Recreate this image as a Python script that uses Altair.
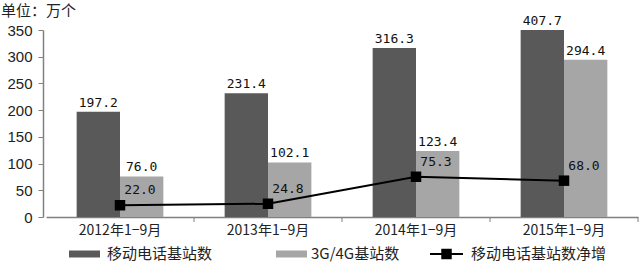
import altair as alt
import pandas as pd

periods = ["2012年1−9月", "2013年1−9月", "2014年1−9月", "2015年1−9月"]
mobile_stations = [197.2, 231.4, 316.3, 407.7]
g34_stations = [76.0, 102.1, 123.4, 294.4]
net_increase = [22.0, 24.8, 75.3, 68.0]
series_names = ["移动电话基站数", "3G/4G基站数", "移动电话基站数净增"]
unit_label = "单位：万个"
y_ticks = [0, 50, 100, 150, 200, 250, 300, 350]

bars_df = pd.DataFrame({
    "period": periods * 2,
    "series": [series_names[0]] * 4 + [series_names[1]] * 4,
    "value": mobile_stations + g34_stations,
})
line_df = pd.DataFrame({"period": periods, "value": net_increase})
one = pd.DataFrame({"k": [0]})

W, H = 594, 187
CJK = "Noto Sans CJK SC"
NUM = "DejaVu Sans Mono"
AX = "#808080"

xscale = alt.Scale(paddingInner=0, paddingOuter=0, range=[3, 595])
xaxis = alt.Axis(title=None, labelAngle=0, ticks=False, domainColor=AX, domainWidth=1.5,
                 labelFont=CJK, labelFontSize=14, labelColor="#222", labelPadding=6)
yscale = alt.Scale(domain=[0, 350], nice=False)
yaxis = alt.Axis(title=None, values=y_ticks, grid=False, tickSize=5, tickColor=AX,
                 domainColor=AX, domainWidth=1.5, labelFont="Liberation Sans",
                 labelFontSize=15, labelColor="#222", labelPadding=6)

X = alt.X("period:N", sort=periods, scale=xscale, axis=xaxis)
Y = alt.Y("value:Q", scale=yscale, axis=yaxis)
XO = alt.XOffset("series:N", sort=series_names[:2],
                 scale=alt.Scale(paddingOuter=0.707, paddingInner=0))
colors = alt.Scale(domain=series_names[:2], range=["#595959", "#a6a6a6"])

bars = alt.Chart(bars_df).mark_bar(clip=True).encode(
    x=X, y=Y, xOffset=XO,
    color=alt.Color("series:N", scale=colors, legend=None),
)

bar_labels = alt.Chart(bars_df).transform_calculate(
    ly="min(datum.value, 350)"
).mark_text(font=NUM, fontSize=13, color="#111", baseline="middle", dy=-9).encode(
    x=X, xOffset=XO,
    y=alt.Y("ly:Q", scale=yscale, axis=yaxis),
    text=alt.Text("value:Q", format=".1f"),
)

xticks = alt.Chart(line_df).mark_rule(color=AX, strokeWidth=1).encode(
    x=alt.X("period:N", sort=periods, scale=xscale, axis=xaxis, bandPosition=1),
    y=alt.value(H), y2=alt.value(H + 5),
)

line = alt.Chart(line_df).mark_line(color="black", strokeWidth=2).encode(x=X, y=Y)
pts = alt.Chart(line_df).mark_point(shape="square", filled=True, size=110,
                                    color="black", opacity=1).encode(x=X, y=Y)
line_labels = alt.Chart(line_df).mark_text(font=NUM, fontSize=13, color="#111",
                                           dx=20, dy=-15).encode(
    x=X, y=Y, text=alt.Text("value:Q", format=".1f"))

title = alt.Chart(one).mark_text(font=CJK, fontSize=15, color="#222", align="left",
                                 baseline="middle").encode(
    x=alt.value(-42), y=alt.value(-19), text=alt.value(unit_label))

ly = 224
leg = [
    alt.Chart(one).mark_rect(color="#595959").encode(
        x=alt.value(26), x2=alt.value(57), y=alt.value(ly - 3.5), y2=alt.value(ly + 3.5)),
    alt.Chart(one).mark_text(font=CJK, fontSize=15, color="#222", align="left",
                             baseline="middle").encode(
        x=alt.value(64), y=alt.value(ly), text=alt.value(series_names[0])),
    alt.Chart(one).mark_rect(color="#a6a6a6").encode(
        x=alt.value(233), x2=alt.value(264), y=alt.value(ly - 3.5), y2=alt.value(ly + 3.5)),
    alt.Chart(one).mark_text(font=CJK, fontSize=15, color="#222", align="left",
                             baseline="middle").encode(
        x=alt.value(268), y=alt.value(ly), text=alt.value(series_names[1])),
    alt.Chart(one).mark_rule(color="black", strokeWidth=2).encode(
        x=alt.value(387), x2=alt.value(420), y=alt.value(ly)),
    alt.Chart(one).mark_point(shape="square", filled=True, size=110, color="black",
                              opacity=1).encode(x=alt.value(403.5), y=alt.value(ly)),
    alt.Chart(one).mark_text(font=CJK, fontSize=15, color="#222", align="left",
                             baseline="middle").encode(
        x=alt.value(428), y=alt.value(ly), text=alt.value(series_names[2])),
]

chart = alt.layer(bars, bar_labels, xticks, line, pts, line_labels, title, *leg).properties(
    width=W, height=H,
    autosize=alt.AutoSizeParams(type="none"),
    padding={"left": 43, "top": 30, "right": 3, "bottom": 45},
    background="white",
).configure_view(stroke=None)

chart.save("out.html", embed_options={"renderer": "svg", "actions": False})
